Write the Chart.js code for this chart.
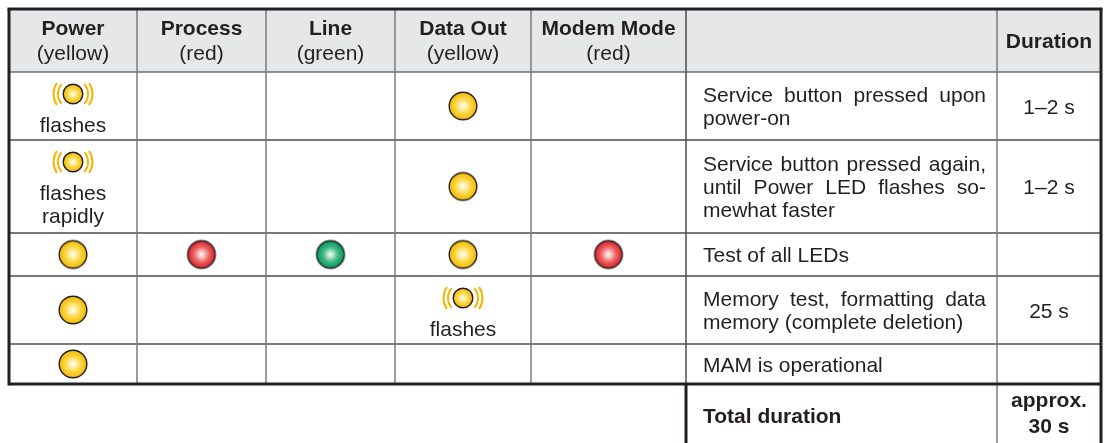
<!DOCTYPE html>
<html>
<head>
<meta charset="utf-8">
<script src="https://cdn.jsdelivr.net/npm/chart.js@4.4.0/dist/chart.umd.min.js"></script>
<style>
  html, body { margin: 0; padding: 0; background: #fff; }
  #wrap { width: 1105px; height: 443px; }
</style>
</head>
<body>
<div id="wrap"><canvas id="ledChart" width="1105" height="443"></canvas></div>
<script>
// -----------------------------
// Table data
// -----------------------------
const ledHeaders = ['Power', 'Process', 'Line', 'Data Out', 'Modem Mode'];
const ledColours = ['yellow', 'red', 'green', 'yellow', 'red'];
const powerStates   = ['flash', 'flash', 'on', 'on', 'on'];
const processStates = ['', '', 'on', '', ''];
const lineStates    = ['', '', 'on', '', ''];
const dataOutStates = ['on', 'on', 'on', 'flash', ''];
const modemStates   = ['', '', 'on', '', ''];
const powerNotes   = [['flashes'], ['flashes', 'rapidly'], [], [], []];
const dataOutNotes = [[], [], [], ['flashes'], []];
const steps = [
  ['Service button pressed upon', 'power-on'],
  ['Service button pressed again,', 'until Power LED flashes so-', 'mewhat faster'],
  ['Test of all LEDs'],
  ['Memory test, formatting data', 'memory (complete deletion)'],
  ['MAM is operational']
];
const durations = ['1\u20132 s', '1\u20132 s', '', '25 s', ''];
const durationHeader = 'Duration';
const totalLabel = 'Total duration';
const totalValue = ['approx.', '30 s'];

// -----------------------------
// Layout (page units = pixels)
// -----------------------------
const colEdges = [9, 137, 266, 395, 531, 686, 997, 1101];
const rowEdges = [9, 72, 140, 233, 276, 344, 384, 443];
const FONT = '"Liberation Sans", Arial, Helvetica, sans-serif';
const INK = '#231f20';

const allStates = [powerStates, processStates, lineStates, dataOutStates, modemStates];
const allNotes = [powerNotes, [], [], dataOutNotes, []];

const ledPalette = {
  yellow: { mid: '#fcd846', edge: '#f2b700' },
  red:    { mid: '#ee6464', edge: '#d51f2a' },
  green:  { mid: '#3fb783', edge: '#00975a' }
};

// LED icons drawn once, used as point styles
function makeLed(colour, flashing) {
  const c = document.createElement('canvas');
  c.width = flashing ? 46 : 32;
  c.height = flashing ? 30 : 32;
  const ctx = c.getContext('2d');
  const cx = c.width / 2, cy = c.height / 2;
  const r = flashing ? 9.8 : 13.8;
  const p = ledPalette[colour];
  const g = ctx.createRadialGradient(cx, cy, 0, cx, cy, r);
  g.addColorStop(0, '#ffffff');
  g.addColorStop(0.55, p.mid);
  g.addColorStop(1, p.edge);
  ctx.beginPath();
  ctx.arc(cx, cy, r, 0, Math.PI * 2);
  ctx.fillStyle = g;
  ctx.fill();
  ctx.lineWidth = 1.4;
  ctx.strokeStyle = INK;
  ctx.stroke();
  if (flashing) {
    ctx.strokeStyle = '#f7b500';
    ctx.lineWidth = 2;
    [[15, 0.72], [19.5, 0.6]].forEach(([rr, a]) => {
      ctx.beginPath(); ctx.arc(cx, cy, rr, -a, a); ctx.stroke();
      ctx.beginPath(); ctx.arc(cx, cy, rr, Math.PI - a, Math.PI + a); ctx.stroke();
    });
  }
  return c;
}

const icons = {};
['yellow', 'red', 'green'].forEach(col => {
  icons[col + ':on'] = makeLed(col, false);
  icons[col + ':flash'] = makeLed(col, true);
});

// -----------------------------
// Datasets: one per LED column
// -----------------------------
const datasets = ledHeaders.map((name, c) => {
  const points = [];
  const styles = [];
  allStates[c].forEach((state, r) => {
    if (!state) return;
    const top = rowEdges[r + 1];
    const bottom = rowEdges[r + 2];
    const hasNote = (allNotes[c][r] || []).length > 0;
    points.push({
      x: (colEdges[c] + colEdges[c + 1]) / 2,
      y: hasNote ? top + 22 : (top + bottom) / 2
    });
    styles.push(icons[ledColours[c] + ':' + state]);
  });
  return {
    label: name,
    data: points,
    pointStyle: styles,
    pointRadius: 14,
    pointHoverRadius: 14
  };
});

// -----------------------------
// Grid + text plugins
// -----------------------------
function line(ctx, x1, y1, x2, y2, w, colour) {
  ctx.beginPath();
  ctx.moveTo(x1, y1);
  ctx.lineTo(x2, y2);
  ctx.lineWidth = w;
  ctx.strokeStyle = colour;
  ctx.stroke();
}

const gridPlugin = {
  id: 'ledGrid',
  beforeDatasetsDraw(chart) {
    const { ctx, scales: { x, y } } = chart;
    const X = v => x.getPixelForValue(v);
    const Y = v => y.getPixelForValue(v);
    ctx.save();
    ctx.fillStyle = '#e6e7e8';
    ctx.fillRect(X(colEdges[0]), Y(rowEdges[0]), X(colEdges[7]) - X(colEdges[0]), Y(rowEdges[1]) - Y(rowEdges[0]));
    // row lines
    for (let r = 1; r <= 5; r++) {
      line(ctx, X(colEdges[0]), Y(rowEdges[r]), X(colEdges[7]), Y(rowEdges[r]), 1.5, r === 1 ? '#6d6e71' : '#4d4d4f');
    }
    // column lines
    for (let c = 1; c <= 6; c++) {
      const bottom = c === 6 ? rowEdges[7] : rowEdges[6];
      line(ctx, X(colEdges[c]), Y(rowEdges[0]), X(colEdges[c]), Y(bottom), 1.5, c === 5 ? '#4d4d4f' : '#7a7b7e');
    }
    // outer borders
    line(ctx, X(colEdges[0]) - 1.5, Y(rowEdges[0]), X(colEdges[7]) + 1.5, Y(rowEdges[0]), 3, INK);
    line(ctx, X(colEdges[0]), Y(rowEdges[0]), X(colEdges[0]), Y(rowEdges[6]) + 1.5, 3, INK);
    line(ctx, X(colEdges[7]), Y(rowEdges[0]), X(colEdges[7]), Y(rowEdges[7]), 3, INK);
    line(ctx, X(colEdges[0]), Y(rowEdges[6]), X(colEdges[7]), Y(rowEdges[6]), 3, INK);
    line(ctx, X(colEdges[5]), Y(rowEdges[6]), X(colEdges[5]), Y(rowEdges[7]), 3, INK);
    ctx.restore();
  },
  afterDatasetsDraw(chart) {
    const { ctx, scales: { x, y } } = chart;
    const X = v => x.getPixelForValue(v);
    const Y = v => y.getPixelForValue(v);
    ctx.save();
    ctx.fillStyle = INK;
    ctx.textBaseline = 'alphabetic';

    // header
    ctx.textAlign = 'center';
    ledHeaders.forEach((name, c) => {
      const cx = X((colEdges[c] + colEdges[c + 1]) / 2);
      ctx.font = 'bold 21px ' + FONT;
      ctx.fillText(name, cx, Y(35));
      ctx.font = '21px ' + FONT;
      ctx.fillText('(' + ledColours[c] + ')', cx, Y(60));
    });
    ctx.font = 'bold 21px ' + FONT;
    ctx.fillText(durationHeader, X((colEdges[6] + colEdges[7]) / 2), Y(48));

    // notes under flashing LEDs
    ctx.font = '21px ' + FONT;
    allNotes.forEach((notes, c) => {
      notes.forEach((lines, r) => {
        lines.forEach((t, i) => {
          ctx.fillText(t, X((colEdges[c] + colEdges[c + 1]) / 2), Y(rowEdges[r + 1] + 60 + i * 23));
        });
      });
    });

    // step descriptions (justified)
    ctx.textAlign = 'left';
    const left = colEdges[5] + 17;
    const right = colEdges[6] - 11;
    steps.forEach((lines, r) => {
      const mid = (rowEdges[r + 1] + rowEdges[r + 2]) / 2;
      const first = mid - (lines.length - 1) * 23.3 / 2 + 7.5;
      lines.forEach((t, i) => {
        const yy = Y(first + i * 23.3);
        const words = t.split(' ');
        if (i === lines.length - 1 || words.length < 2) {
          ctx.fillText(t, X(left), yy);
          return;
        }
        const wordsW = words.reduce((s, w) => s + ctx.measureText(w).width, 0);
        const gap = (X(right) - X(left) - wordsW) / (words.length - 1);
        let xx = X(left);
        words.forEach(w => {
          ctx.fillText(w, xx, yy);
          xx += ctx.measureText(w).width + gap;
        });
      });
    });

    // durations
    ctx.textAlign = 'center';
    const dx = X((colEdges[6] + colEdges[7]) / 2);
    durations.forEach((d, r) => {
      if (!d) return;
      const mid = (rowEdges[r + 1] + rowEdges[r + 2]) / 2;
      ctx.fillText(d, dx, Y(mid + 7.5));
    });

    // total row
    ctx.font = 'bold 21px ' + FONT;
    ctx.textAlign = 'left';
    ctx.fillText(totalLabel, X(left), Y(423));
    ctx.textAlign = 'center';
    ctx.fillText(totalValue[0], dx, Y(407));
    ctx.fillText(totalValue[1], dx, Y(433));
    ctx.restore();
  }
};

new Chart(document.getElementById('ledChart'), {
  type: 'scatter',
  data: { datasets },
  options: {
    responsive: false,
    animation: false,
    events: [],
    layout: { padding: 0, autoPadding: false },
    plugins: { legend: { display: false }, tooltip: { enabled: false } },
    scales: {
      x: { type: 'linear', min: 0, max: 1105, display: false },
      y: { type: 'linear', min: 0, max: 443, reverse: true, display: false }
    }
  },
  plugins: [gridPlugin]
});
</script>
</body>
</html>
